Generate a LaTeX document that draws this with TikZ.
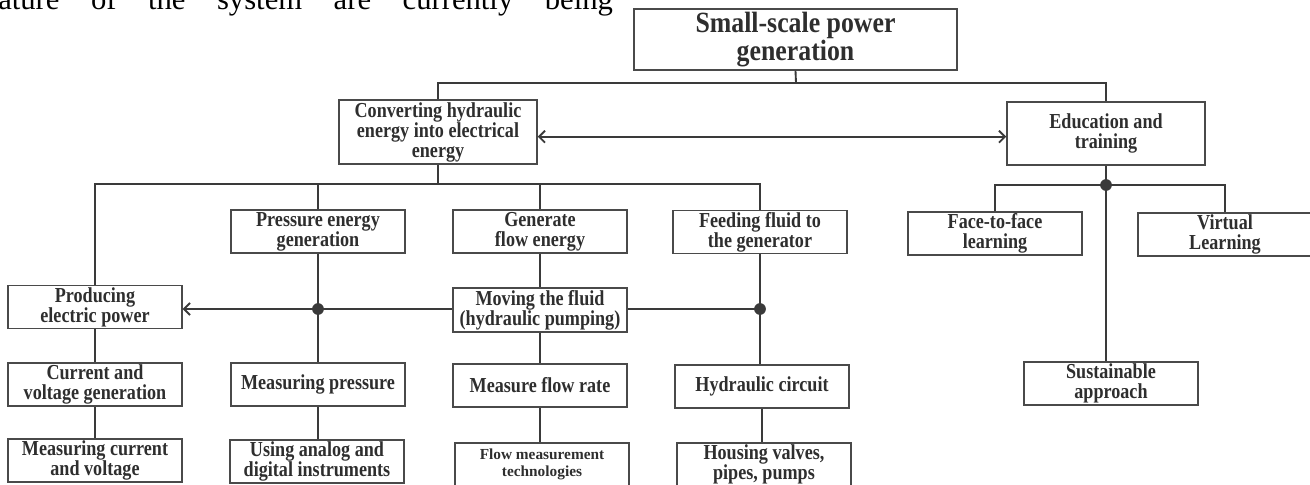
\documentclass[tikz,border=0pt]{standalone}
\usepackage{fontspec}
\usepackage{xcolor}
\usepackage{tikz}
\usetikzlibrary{arrows.meta}
\setmainfont{Liberation Serif}
\newfontfamily\boxfont{Liberation Serif}[FakeStretch=0.85]
\newfontfamily\ttlfont{Liberation Serif}[FakeStretch=0.88]
\definecolor{hpink}{HTML}{2E2E2E}
\definecolor{hpline}{HTML}{3A3A3A}
\definecolor{hpedge}{HTML}{4A4A4A}

\begin{document}
\begin{tikzpicture}[x=0.75pt,y=-0.75pt,
  hpbox/.style={draw=hpedge, line width=1.1pt, text=hpink, align=center,
    inner sep=0pt, minimum width=130.5pt, minimum height=32.25pt,
    font=\boxfont\bfseries\fontsize{16}{15}\selectfont},
  hpline/.style={draw=hpline, line width=1.4pt},
  hpbarb/.style={-{Straight Barb[length=4.5pt,width=9pt]}},
  hpdot/.style={fill=hpline}]
  \useasboundingbox (0,0) rectangle (1310,485);

  % cut-off body text above the chart
  \node[anchor=base west, inner sep=0pt, text=black, font=\fontsize{23}{26}\selectfont] (frag) at (-2,10)
    {\makebox[461pt][s]{ature of the system are currently being}};

  \node[hpbox, minimum width=242pt, minimum height=45.75pt,
    font=\ttlfont\bfseries\fontsize{22}{21}\selectfont] (ttl) at (795.5,39.5) {Small-scale power\\generation};
  \node[hpbox, minimum width=148.5pt, minimum height=48pt] (conv) at (438,132)
    {Converting hydraulic\\energy into electrical\\energy};
  \node[hpbox, minimum width=148.5pt, minimum height=47.25pt] (edu) at (1106,133.5) {Education and\\training};

  \node[hpbox] (pres) at (318,231.5) {Pressure energy\\generation};
  \node[hpbox] (gen) at (540,231.5) {Generate\\flow energy};
  \node[hpbox] (feed) at (760,232) {Feeding fluid to\\the generator};
  \node[hpbox] (prod) at (95,307) {Producing\\electric power};
  \node[hpbox, minimum height=33pt] (move) at (540,310) {Moving the fluid\\(hydraulic pumping)};

  \node[hpbox] (cvg) at (95,384.5) {Current and\\voltage generation};
  \node[hpbox] (mpr) at (318,384.5) {Measuring pressure};
  \node[hpbox] (mfr) at (540,385.5) {Measure flow rate};
  \node[hpbox] (hyd) at (762,386.5) {Hydraulic circuit};

  \node[hpbox] (mcv) at (95,460.5) {Measuring current\\and voltage};
  \node[hpbox] (ana) at (317,461.5) {Using analog and\\digital instruments};
  \node[hpbox, font=\bfseries\fontsize{11.5}{12.5}\selectfont] (fmt) at (542,464.5) {Flow measurement\\technologies};
  \node[hpbox] (hou) at (764,464.5) {Housing valves,\\pipes, pumps};

  \node[hpbox] (f2f) at (995,233.5) {Face-to-face\\learning};
  \node[hpbox] (vir) at (1225,234.5) {Virtual\\Learning};
  \node[hpbox] (sus) at (1111,383.5) {Sustainable\\approach};

  \coordinate (jt) at (796,83);
  \coordinate (jc) at (438,184);
  \coordinate (dp) at (318,309);
  \coordinate (df) at (760,309);
  \coordinate (de) at (1106,185);

  % top level
  \draw[hpline] (ttl.south) -- (jt);
  \draw[hpline] (conv.north) |- (jt) -| (edu.north);
  \draw[hpline, {Straight Barb[length=4.5pt,width=9pt]}-{Straight Barb[length=4.5pt,width=9pt]}]
    ([yshift=-3.5pt]conv.east) -- ([yshift=-3.5pt]conv.east -| edu.west);

  % hydraulic branch
  \draw[hpline] (conv.south) -- (jc);
  \draw[hpline] (prod.north) |- (jc) -| (feed.north);
  \draw[hpline] (pres.north) -- (pres.north |- jc);
  \draw[hpline] (gen.north) -- (gen.north |- jc);
  \draw[hpline] (pres.south) -- (pres.south |- mpr.north);
  \draw[hpline, hpbarb] (dp) -- (dp -| prod.east);
  \draw[hpline] (dp) -- (dp -| move.west);
  \draw[hpline] (df -| move.east) -- (df);
  \draw[hpline] (feed.south) -- (df) -- (df |- hyd.north);
  \draw[hpline] (gen.south) -- (gen.south |- move.north);
  \draw[hpline] (move.south) -- (move.south |- mfr.north);
  \draw[hpline] (prod.south) -- (cvg.north);
  \draw[hpline] (cvg.south) -- (mcv.north);
  \draw[hpline] (mpr.south) -- (mpr.south |- ana.north);
  \draw[hpline] (mfr.south) -- (mfr.south |- fmt.north);
  \draw[hpline] (hyd.south) -- (hyd.south |- hou.north);
  \fill[hpdot] (dp) circle (4.4pt);
  \fill[hpdot] (df) circle (4.4pt);

  % training branch
  \draw[hpline] (edu.south) -- (de);
  \draw[hpline] (f2f.north) |- (de) -| (vir.north);
  \draw[hpline] (de) -- (de |- sus.north);
  \fill[hpdot] (de) circle (4.4pt);
\end{tikzpicture}
\end{document}
